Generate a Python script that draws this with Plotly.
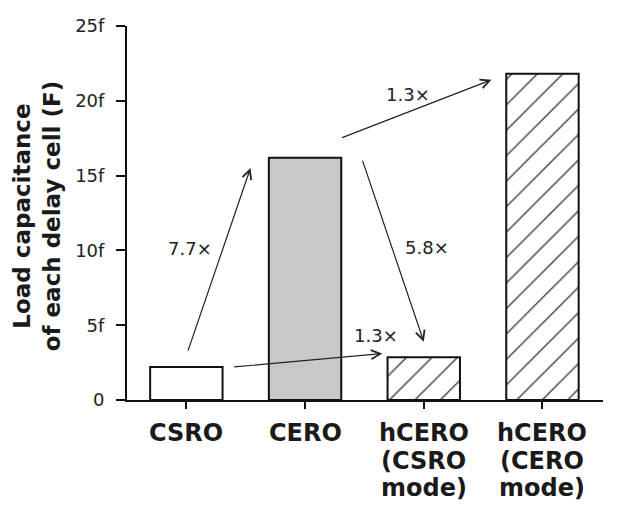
import plotly.graph_objects as go

# ---- data ----
categories = ["CSRO", "CERO", "hCERO (CSRO mode)", "hCERO (CERO mode)"]
label_lines = [["CSRO"], ["CERO"], ["hCERO", "(CSRO", "mode)"], ["hCERO", "(CERO", "mode)"]]
values_fF = [2.2, 16.2, 2.85, 21.8]
bar_colors = ["white", "#c8c8ca", "white", "white"]
bar_patterns = ["", "", "/", "/"]

y_tickvals = [0, 5, 10, 15, 20, 25]
y_ticktext = ["0", "5f", "10f", "15f", "20f", "25f"]

# arrows: (tail_x, tail_y, head_x, head_y) in category-index / fF units
arrow_tail_x = [0.01, 0.39, 1.30, 1.48]
arrow_tail_y = [3.2, 2.2, 17.5, 16.1]
arrow_head_x = [0.54, 1.65, 2.57, 2.00]
arrow_head_y = [15.5, 3.1, 21.4, 3.9]
ratio_text = ["7.7×", "1.3×", "1.3×", "5.8×"]
ratio_x = [0.03, 1.60, 1.87, 2.03]
ratio_y = [10.1, 4.3, 20.4, 10.2]

FONT = "DejaVu Sans"
xs = list(range(len(categories)))

fig = go.Figure()
fig.add_trace(go.Bar(
    x=xs, y=values_fF, width=0.61,
    marker=dict(color=bar_colors,
                line=dict(color="#111", width=2),
                pattern=dict(shape=bar_patterns, fgcolor="#111", fgopacity=1, bgcolor="white",
                             size=18, solidity=0.08)),
    hovertext=categories, showlegend=False,
))

annotations = []
for tx, ty, hx, hy in zip(arrow_tail_x, arrow_tail_y, arrow_head_x, arrow_head_y):
    annotations.append(dict(
        x=hx, y=hy, ax=tx, ay=ty, xref="x", yref="y", axref="x", ayref="y",
        text="", showarrow=True, arrowhead=5, arrowsize=1.5, arrowwidth=1.2,
        arrowcolor="#222", standoff=0, startstandoff=0))
for t, x, y in zip(ratio_text, ratio_x, ratio_y):
    annotations.append(dict(x=x, y=y, xref="x", yref="y", text=t, showarrow=False,
                            font=dict(family=FONT, size=18, color="#222")))
# category labels (line by line for tight spacing)
for xi, lines in zip(xs, label_lines):
    for k, line in enumerate(lines):
        annotations.append(dict(x=xi, y=0, xref="x", yref="paper", yanchor="middle",
                                yshift=-33 - 27.5 * k, text=line, showarrow=False,
                                font=dict(family=FONT, size=24, color="#1a1a1a", weight="bold")))
# y-axis title
annotations.append(dict(x=-0.19, y=0.49, xref="paper", yref="paper", textangle=-90,
                        xanchor="center", yanchor="middle", showarrow=False,
                        text="<b>Load capacitance<br>of each delay cell (F)</b>",
                        font=dict(family=FONT, size=23, color="#1a1a1a")))

# page body has an 8px default margin, so the figure is 16px smaller than the window
fig.update_layout(
    width=602, height=493,
    margin=dict(l=119, r=7, t=14, b=101),
    paper_bgcolor="white", plot_bgcolor="white",
    font=dict(family=FONT, color="#222"),
    annotations=annotations,
    xaxis=dict(range=[-0.5, 3.51], tickvals=xs, showticklabels=False,
               ticks="outside", ticklen=7, tickwidth=2, tickcolor="#111",
               showline=True, linecolor="#111", linewidth=2, showgrid=False, zeroline=False),
    yaxis=dict(range=[0, 25], tickvals=y_tickvals, ticktext=y_ticktext,
               ticks="outside", ticklen=9, tickwidth=2, tickcolor="#111",
               ticklabelstandoff=8,
               tickfont=dict(family=FONT, size=18, color="#222"),
               showline=True, linecolor="#111", linewidth=2, showgrid=False, zeroline=False),
)

fig.write_html("out.html")
